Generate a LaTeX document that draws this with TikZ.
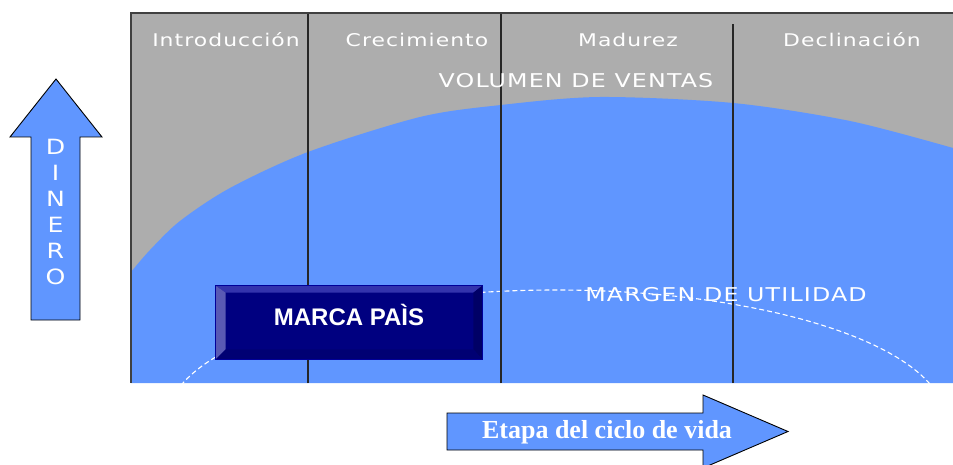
\documentclass[tikz,border=0pt]{standalone}
\usepackage{fontspec}
\setmainfont{Liberation Serif}
\setsansfont{Liberation Sans}
\newfontfamily\stagefont[FakeStretch=1.25, LetterSpace=6]{DejaVu Sans}
\newfontfamily\dinerofont[FakeStretch=1.2]{DejaVu Sans}

\definecolor{areagray}{HTML}{ADADAD}
\definecolor{areablue}{HTML}{6096FF}
\definecolor{boxnavy}{HTML}{000080}

\tikzset{
	stage/.style={text=white, anchor=base, inner sep=0pt, font=\stagefont\fontsize{17.5}{20}\selectfont},
	zonetext/.style={text=white, anchor=base, inner sep=0pt, font=\stagefont\fontsize{19}{22}\selectfont},
	divider/.style={draw=black!85, line width=1.6pt},
	arrowshape/.style={fill=areablue, draw=black, line width=0.9pt, line join=miter},
}

\begin{document}
\begin{tikzpicture}[x=1pt, y=1pt]
			\useasboundingbox (0,0) rectangle (953,464);

			% Draw the chart area
			\fill[areagray] (131,81) rectangle (953,451);
			\fill[areablue] (131,81) -- plot[smooth, tension=0.5] coordinates {(131,192) (150,214) (180,243) (230,276) (308,312) (420,347) (501,359) (600,367) (733,361) (850,343) (953,316)} -- (953,81) -- cycle;

			% Draw the dashed margin curve
			\begin{scope}
				\clip (131,81) rectangle (953,451);
				\draw[white, line width=1.1pt, dash pattern=on 5pt off 3pt] (556,44) ellipse [x radius=389pt, y radius=130pt];
			\end{scope}

			% Draw the stage dividers and the frame
			\draw[divider] (308,81) -- (308,451);
			\draw[divider] (501,81) -- (501,451);
			\draw[divider] (733,81) -- (733,440);
			\draw[draw=black!75, line width=1.6pt] (131,81) -- (131,451) -- (953,451);

			% Stage names
			\node[stage] (intro) at (226,417) {Introducción};
			\node[stage] (crec) at (417,417) {Crecimiento};
			\node[stage] (madur) at (628,417) {Madurez};
			\node[stage] (declin) at (852,417) {Declinación};

			\node[zonetext] (ventas) at (576,376) {VOLUMEN DE VENTAS};
			\node[zonetext] (margen) at (726,163) {MARGEN DE UTILIDAD};

			% Draw the bevelled box
			\node[fill=boxnavy, draw=blue!60!black, line width=0.6pt, minimum width=266, minimum height=73, text height=17.2, text depth=11, inner sep=0pt, text=white, font=\sffamily\bfseries\fontsize{24}{28}\selectfont] (marca) at (349,141.5) {MARCA PAÌS};
			\coordinate (inw) at ([shift={(10,-7)}]marca.north west);
			\coordinate (ine) at ([shift={(-9,-7)}]marca.north east);
			\coordinate (isw) at ([shift={(10,10)}]marca.south west);
			\coordinate (ise) at ([shift={(-9,10)}]marca.south east);
			\fill[fill=blue!60!black!80] (marca.north west) -- (marca.north east) -- (ine) -- (inw) -- cycle;
			\fill[fill=blue!55!black!65!white] (marca.north west) -- (inw) -- (isw) -- (marca.south west) -- cycle;
			\fill[fill=blue!40!black] (marca.north east) -- (marca.south east) -- (ise) -- (ine) -- cycle;
			\fill[fill=blue!45!black] (marca.south west) -- (isw) -- (ise) -- (marca.south east) -- cycle;
			\draw[blue!60!black, line width=0.6pt] (marca.north west) rectangle (marca.south east);

			% Draw the money arrow
			\draw[arrowshape] (31,144) -- (31,327) -- (10,327) -- (56,385) -- (102,327) -- (80,327) -- (80,144) -- cycle;
			\node[text=white, align=center, inner sep=0pt, font=\dinerofont\fontsize{21}{26}\selectfont] (dinero) at (55.5,252) {D\\I\\N\\E\\R\\O};

			% Draw the life cycle arrow
			\draw[arrowshape] (447,14) -- (447,51) -- (703,51) -- (703,69) -- (788,32.5) -- (703,-4) -- (703,14) -- cycle;
			\node[text=white, anchor=base, inner sep=0pt, font=\bfseries\fontsize{26}{28}\selectfont] (etapa) at (607,26) {Etapa del ciclo de vida};
\end{tikzpicture}
\end{document}
